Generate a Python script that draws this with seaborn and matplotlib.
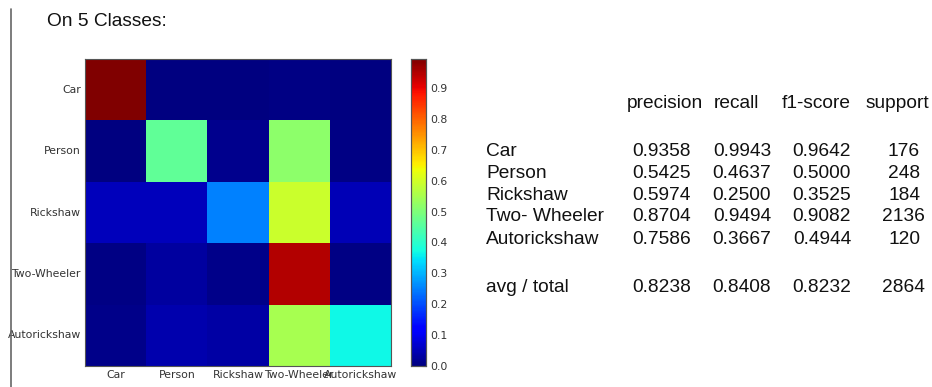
import numpy as np
import pandas as pd
import seaborn as sns
import matplotlib
matplotlib.use("Agg")
import matplotlib.pyplot as plt
from matplotlib.lines import Line2D

classes = ["Car", "Person", "Rickshaw", "Two-Wheeler", "Autorickshaw"]

# Row-normalised confusion matrix (true class per row, predicted per column)
row_car = [0.9943, 0.0, 0.0, 0.0057, 0.0]
row_person = [0.0, 0.4637, 0.0121, 0.5202, 0.004]
row_rickshaw = [0.0543, 0.0543, 0.25, 0.5924, 0.049]
row_twowheeler = [0.0061, 0.0309, 0.0089, 0.9494, 0.0047]
row_autorickshaw = [0.0083, 0.0417, 0.0333, 0.55, 0.3667]

# Classification report
report_rows = ["Car", "Person", "Rickshaw", "Two- Wheeler", "Autorickshaw"]
precision = [0.9358, 0.5425, 0.5974, 0.8704, 0.7586]
recall = [0.9943, 0.4637, 0.2500, 0.9494, 0.3667]
f1_score = [0.9642, 0.5000, 0.3525, 0.9082, 0.4944]
support = [176, 248, 184, 2136, 120]
avg_total = [0.8238, 0.8408, 0.8232, 2864]

cm = pd.DataFrame([row_car, row_person, row_rickshaw, row_twowheeler, row_autorickshaw],
                  index=classes, columns=classes)

sns.set_style("white")
plt.rcParams["font.family"] = ["DejaVu Sans"]

W, H = 932, 387
fig = plt.figure(figsize=(W / 100, H / 100), dpi=100)
fig.patch.set_facecolor("white")

ax = fig.add_axes([85 / W, 1 - 366 / H, 306 / W, 307 / H])
cax = fig.add_axes([411 / W, 1 - 366 / H, 15 / W, 307 / H])

sns.heatmap(cm, ax=ax, cbar_ax=cax, cmap="jet", vmin=0, vmax=cm.values.max(),
            square=False, linewidths=0)
frame_color = "#555555"
for s in ax.spines.values():
    s.set_visible(True)
    s.set_color(frame_color)
    s.set_linewidth(0.8)
lab_color = "#333333"
ax.tick_params(axis="both", labelsize=7.8, length=3, direction="in", color="#555555",
               pad=3)
ax.set_yticklabels(classes, rotation=0, color=lab_color)
ax.set_xticklabels(classes, rotation=0, color=lab_color)
ax.set_xlabel("")
ax.set_ylabel("")

cax.set_yticks(np.arange(0, 1.0, 0.1))
cax.set_yticklabels([f"{v:.1f}" for v in np.arange(0, 1.0, 0.1)])
cax.tick_params(labelsize=7.8, length=3, direction="in", color="#555555", pad=3,
                colors=lab_color)
for s in cax.spines.values():
    s.set_visible(True)
    s.set_color(frame_color)
    s.set_linewidth(0.8)

# Left margin rule
fig.add_artist(Line2D([10.5 / W, 10.5 / W], [0, 1 - 9 / H], color="#666666", lw=1.2))

tf = ["Liberation Sans", "DejaVu Sans"]
fs = 13.8
txt = "#111111"
fig.text(47 / W, 1 - 22 / H, "On 5 Classes:", fontsize=fs, family=tf,
         va="center", ha="left", color=txt)

# header words are left-anchored, numeric columns right-anchored
head_left = [627, 714, 782, 866]
headers = ["precision", "recall", "f1-score", "support"]
for x, h in zip(head_left, headers):
    fig.text(x / W, 1 - 104 / H, h, fontsize=fs, family=tf, ha="left", va="center",
             color=txt)

col_right = [691, 771, 851]


def support_right(n):
    # space-padded integers end a little further right when they have more digits
    return 920 + 5 * (len(str(n)) - 3)


row_y = [151, 173, 195, 217, 239]
for i, name in enumerate(report_rows):
    y = 1 - row_y[i] / H
    fig.text(486 / W, y, name, fontsize=fs, family=tf, ha="left", va="center",
             color=txt)
    vals = [f"{precision[i]:.4f}", f"{recall[i]:.4f}", f"{f1_score[i]:.4f}"]
    for x, v in zip(col_right, vals):
        fig.text(x / W, y, v, fontsize=fs, family=tf, ha="right", va="center",
                 color=txt)
    fig.text(support_right(support[i]) / W, y, str(support[i]), fontsize=fs, family=tf,
             ha="right", va="center", color=txt)

y = 1 - 288 / H
fig.text(486 / W, y, "avg / total", fontsize=fs, family=tf, ha="left", va="center",
         color=txt)
vals = [f"{avg_total[0]:.4f}", f"{avg_total[1]:.4f}", f"{avg_total[2]:.4f}"]
for x, v in zip(col_right, vals):
    fig.text(x / W, y, v, fontsize=fs, family=tf, ha="right", va="center", color=txt)
fig.text(support_right(avg_total[3]) / W, y, str(avg_total[3]), fontsize=fs, family=tf,
         ha="right", va="center", color=txt)

fig.savefig("out.png", dpi=100, facecolor="white")
